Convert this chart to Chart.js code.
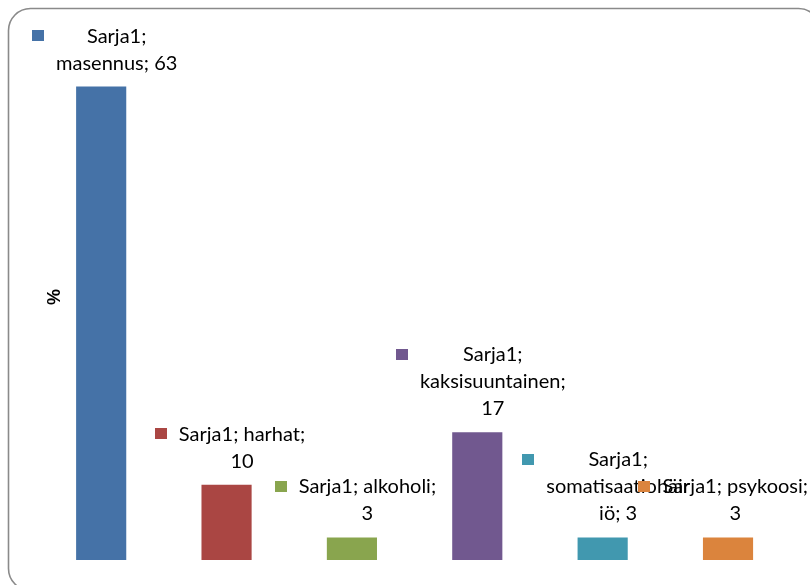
<!DOCTYPE html>
<html>
<head>
<meta charset="utf-8">
<title>Sarja1</title>
<script src="https://cdn.jsdelivr.net/npm/chart.js@4/dist/chart.umd.min.js"></script>
<style>
  html, body { margin: 0; padding: 0; background: #ffffff; }
  #wrap { width: 810px; height: 585px; }
</style>
</head>
<body>
<div id="wrap"><canvas id="chart" width="810" height="585"></canvas></div>
<script>
// Series and categories
const seriesName = 'Sarja1';
const categories = ['masennus', 'harhat', 'alkoholi', 'kaksisuuntainen', 'somatisaatiohäiriö', 'psykoosi'];
const values = [63, 10, 3, 17, 3, 3];
const barColors = ['#4572A7', '#AA4643', '#89A54E', '#71588F', '#4198AF', '#DB843D'];
const axisTitle = '%';
const yMax = 70;

const LABEL_FONT = '20px Lato';
const LINE_HEIGHT = 27;
const WRAP_WIDTH = 147;
const KEY_W = 12, KEY_H = 11, KEY_GAP = 12;

// Greedy word wrap; words wider than the limit are split by characters.
function wrapText(ctx, text, maxW) {
  const words = text.split(' ');
  const lines = [];
  let cur = '';
  for (const word of words) {
    const trial = cur ? cur + ' ' + word : word;
    if (ctx.measureText(trial).width <= maxW) { cur = trial; continue; }
    if (cur) lines.push(cur);
    let rest = word;
    while (ctx.measureText(rest).width > maxW) {
      let n = rest.length - 1;
      while (n > 1 && ctx.measureText(rest.slice(0, n)).width > maxW) n--;
      lines.push(rest.slice(0, n));
      rest = rest.slice(n);
    }
    cur = rest;
  }
  if (cur) lines.push(cur);
  return lines;
}

// Rounded outer frame of the chart
const framePlugin = {
  id: 'frame',
  afterDraw(chart) {
    const ctx = chart.ctx;
    ctx.save();
    ctx.strokeStyle = '#8a8a8a';
    ctx.lineWidth = 1.6;
    ctx.beginPath();
    ctx.roundRect(8.5, 8.5, 812, 582, 22);
    ctx.stroke();
    ctx.restore();
  }
};

// Axis title drawn just inside the plot's left edge
const axisTitlePlugin = {
  id: 'axisTitle',
  afterDraw(chart) {
    const { ctx, chartArea } = chart;
    ctx.save();
    ctx.font = 'bold 18px "Liberation Sans", Arial, sans-serif';
    ctx.fillStyle = '#000000';
    ctx.textAlign = 'center';
    ctx.textBaseline = 'middle';
    ctx.translate(chartArea.left + 16.5, (chartArea.top + chartArea.bottom) / 2);
    ctx.rotate(-Math.PI / 2);
    ctx.fillText(axisTitle, 0, 0);
    ctx.restore();
  }
};

// Data labels: legend key + "series; category; value", wrapped above each bar
const dataLabelPlugin = {
  id: 'dataLabels',
  afterDatasetsDraw(chart) {
    const ctx = chart.ctx;
    const meta = chart.getDatasetMeta(0);
    const ds = chart.data.datasets[0];
    ctx.save();
    ctx.font = LABEL_FONT;
    meta.data.forEach((bar, i) => {
      const text = seriesName + '; ' + chart.data.labels[i] + '; ' + ds.data[i];
      const lines = wrapText(ctx, text, WRAP_WIDTH);
      const textW = Math.max(...lines.map(l => ctx.measureText(l).width));
      const boxW = KEY_W + KEY_GAP + textW;
      let left = bar.x + 3.5 - boxW / 2;
      if (left + boxW > chart.width - 2) left = chart.width - 2 - boxW;
      const textCx = left + KEY_W + KEY_GAP + textW / 2;
      const lastBase = bar.y - 17;
      const firstBase = lastBase - (lines.length - 1) * LINE_HEIGHT;
      // legend key
      ctx.fillStyle = ds.backgroundColor[i];
      ctx.fillRect(Math.round(left), Math.round(firstBase - 7 - KEY_H / 2), KEY_W, KEY_H);
      // text lines
      ctx.fillStyle = '#000000';
      ctx.textAlign = 'center';
      ctx.textBaseline = 'alphabetic';
      lines.forEach((line, k) => {
        ctx.fillText(line, textCx, firstBase + k * LINE_HEIGHT);
      });
    });
    ctx.restore();
  }
};

new Chart(document.getElementById('chart'), {
  type: 'bar',
  data: {
    labels: categories,
    datasets: [{
      label: seriesName,
      data: values,
      backgroundColor: barColors,
      borderWidth: 0,
      categoryPercentage: 1.0,
      barPercentage: 0.4
    }]
  },
  options: {
    responsive: false,
    animation: false,
    devicePixelRatio: 1,
    layout: { padding: { left: 38.5, right: 19.3, top: 34, bottom: 25 } },
    plugins: {
      legend: { display: false },
      tooltip: { enabled: false }
    },
    scales: {
      x: { display: false },
      y: { display: false, min: 0, max: yMax }
    }
  },
  plugins: [dataLabelPlugin, axisTitlePlugin, framePlugin]
});
</script>
</body>
</html>
